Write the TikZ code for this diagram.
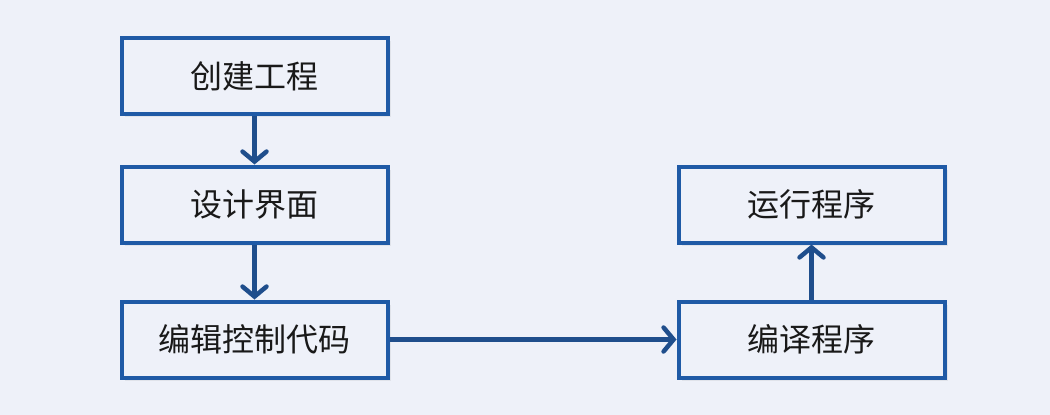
\documentclass[tikz,border=0pt]{standalone}
\usepackage{fontspec}
\newfontfamily\cjk{Noto Sans CJK SC}
\usetikzlibrary{arrows.meta,shadows}
\definecolor{bgc}{HTML}{EEF1F9}
\definecolor{boxc}{HTML}{1F5AA6}
\definecolor{arrc}{HTML}{1F4E8C}
\begin{document}
\begin{tikzpicture}[x=1pt,y=-1pt,
  stepbox/.style={draw=boxc, line width=4pt, fill=bgc, minimum width=266pt, minimum height=76pt,
    inner sep=0pt, font=\cjk\fontsize{32}{36}\selectfont, text=black!90,
    drop shadow={opacity=0.12, shadow xshift=3pt, shadow yshift=-3pt}},
  flow/.style={draw=arrc, line width=4.5pt, -{Straight Barb[length=10pt,width=24pt,line cap=round,line width=4.5pt]}}]
\fill[bgc] (0,0) rectangle (1050,415);
\useasboundingbox (0,0) rectangle (1050,415);
\node[stepbox] (a) at (254.5,76) {创建工程};
\node[stepbox] (b) at (254.5,204.5) {设计界面};
\node[stepbox] (c) at (254.5,339.5) {编辑控制代码};
\node[stepbox] (d) at (811.5,339.5) {编译程序};
\node[stepbox] (e) at (811.5,204.5) {运行程序};
\draw[flow] (a) -- (b);
\draw[flow] (b) -- (c);
\draw[flow] (c) -- (d);
\draw[flow] (d) -- (e);
\end{tikzpicture}
\end{document}
